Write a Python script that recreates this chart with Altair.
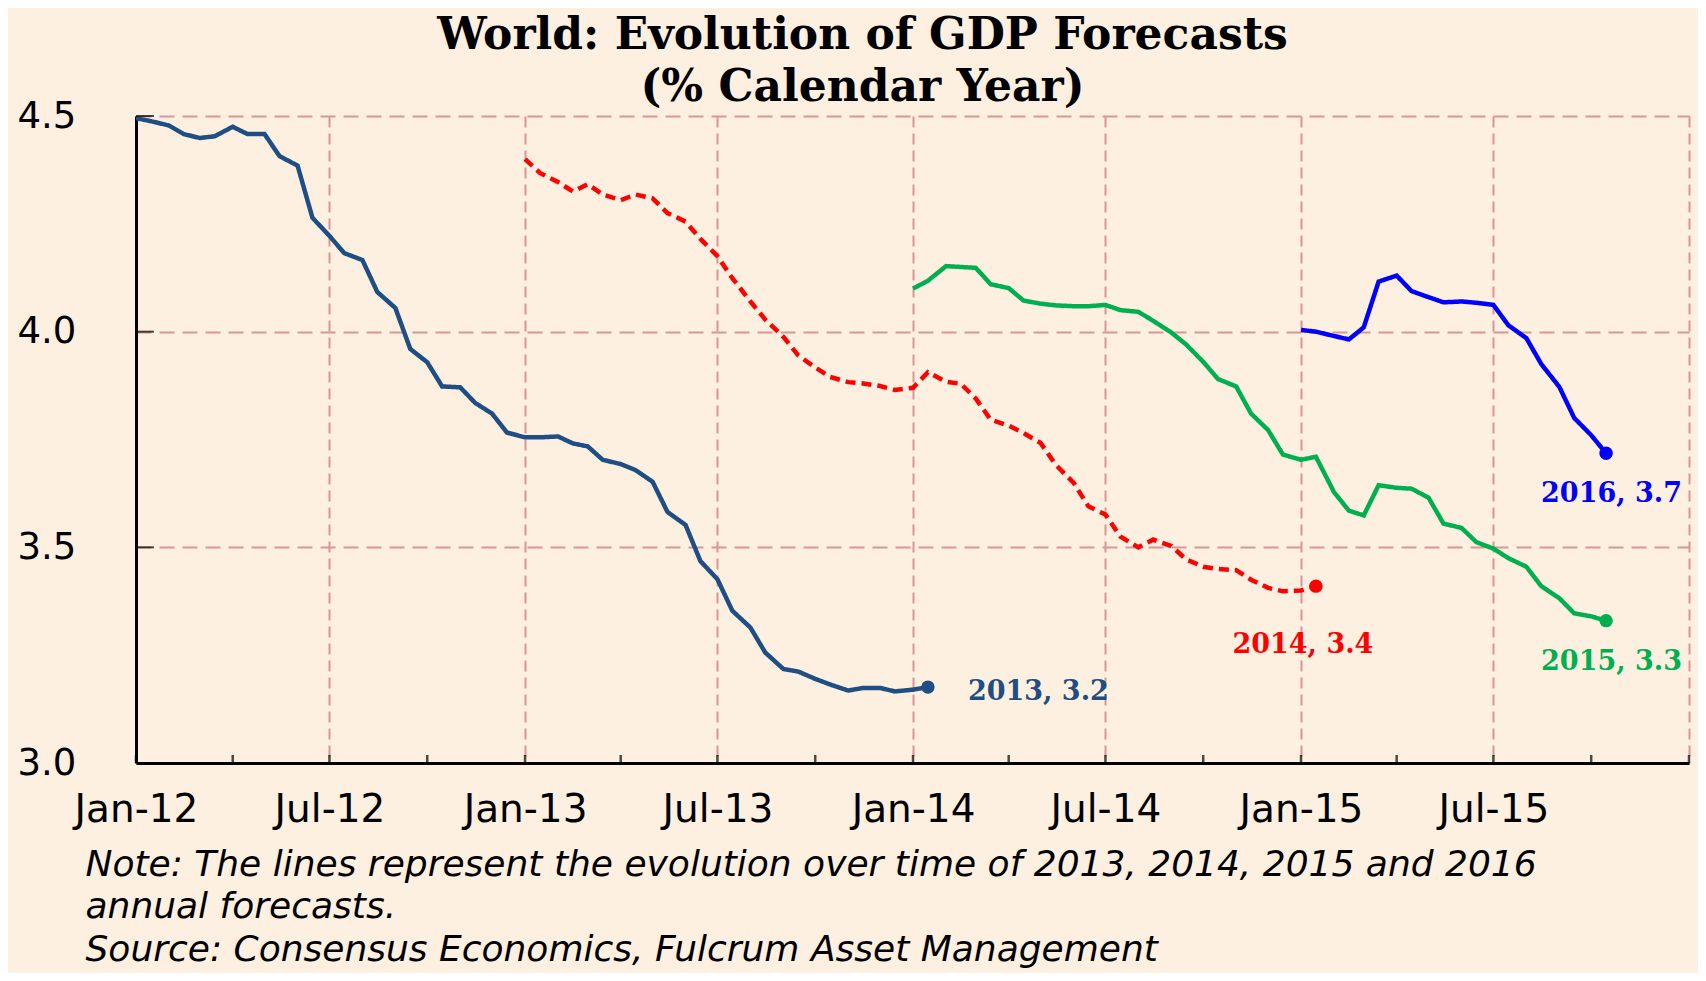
import altair as alt
import pandas as pd

# ---------------- data ----------------
SERIES = ["2013", "2014", "2015", "2016"]
COLORS = ["#1F4E85", "#FF0000", "#00B050", "#0000FF"]
STARTS = ["2012-01-01", "2013-01-01", "2014-01-01", "2015-01-01"]

# semi-monthly readings (1st and 15th of each month)
v2013 = [4.495, 4.488, 4.478, 4.458, 4.449, 4.453, 4.475, 4.458, 4.458, 4.407,
         4.385, 4.264, 4.222, 4.182, 4.166, 4.092, 4.055, 3.960, 3.929, 3.873,
         3.871, 3.835, 3.810, 3.766, 3.755, 3.755, 3.757, 3.741, 3.734, 3.703,
         3.693, 3.679, 3.652, 3.582, 3.552, 3.468, 3.426, 3.353, 3.314, 3.256,
         3.218, 3.212, 3.195, 3.182, 3.168, 3.174, 3.174, 3.166, 3.170, 3.176]
v2014 = [4.400, 4.368, 4.347, 4.325, 4.342, 4.318, 4.305, 4.318, 4.309, 4.275,
         4.255, 4.215, 4.175, 4.124, 4.070, 4.028, 3.988, 3.945, 3.917, 3.895,
         3.883, 3.880, 3.874, 3.865, 3.870, 3.906, 3.884, 3.879, 3.845, 3.796,
         3.782, 3.765, 3.742, 3.692, 3.650, 3.595, 3.576, 3.525, 3.500, 3.518,
         3.503, 3.472, 3.455, 3.450, 3.447, 3.425, 3.406, 3.398, 3.400, 3.410]
v2015 = [4.100, 4.118, 4.152, 4.150, 4.148, 4.110, 4.101, 4.072, 4.065, 4.061,
         4.059, 4.059, 4.062, 4.050, 4.046, 4.025, 3.998, 3.970, 3.930, 3.890,
         3.873, 3.810, 3.772, 3.715, 3.703, 3.710, 3.628, 3.585, 3.574, 3.644,
         3.638, 3.636, 3.615, 3.555, 3.545, 3.512, 3.497, 3.475, 3.455, 3.410,
         3.382, 3.347, 3.340, 3.330]
v2016 = [4.004, 4.000, 3.990, 3.982, 4.010, 4.116, 4.130, 4.094, 4.080, 4.068,
         4.070, 4.067, 4.062, 4.015, 3.985, 3.925, 3.872, 3.800, 3.760, 3.718]
VALUES = [v2013, v2014, v2015, v2016]

GRID_DATES = ["2012-01-01", "2012-07-01", "2013-01-01", "2013-07-01", "2014-01-01",
              "2014-07-01", "2015-01-01", "2015-07-01", "2016-01-01"]
MINOR_TICK_DATES = ["2012-01-01", "2012-04-01", "2012-07-01", "2012-10-01",
                    "2013-01-01", "2013-04-01", "2013-07-01", "2013-10-01",
                    "2014-01-01", "2014-04-01", "2014-07-01", "2014-10-01",
                    "2015-01-01", "2015-04-01", "2015-07-01", "2015-10-01",
                    "2016-01-01"]
Y_TICKS = [3.0, 3.5, 4.0, 4.5]
Y_DOMAIN = [3.0, 4.5]

TITLE_LINES = ["World: Evolution of GDP Forecasts", "(% Calendar Year)"]
NOTE_LINES = ["Note: The lines represent the evolution over time of 2013, 2014, 2015 and 2016",
              "annual forecasts.",
              "Source: Consensus Economics, Fulcrum Asset Management"]

# ---------------- tables ----------------
rows = []
for s, start, vals in zip(SERIES, STARTS, VALUES):
    dates = pd.date_range(start, periods=len(vals), freq="SMS")
    for d, v in zip(dates, vals):
        rows.append({"date": d.strftime("%Y-%m-%d"), "value": v, "series": s})
df = pd.DataFrame(rows)

last = df.groupby("series", sort=False).tail(1).copy()
last["label"] = [f"{s}, {v:.1f}" for s, v in zip(last["series"], last["value"])]

xticks_df = pd.DataFrame({"date": MINOR_TICK_DATES, "value": [Y_DOMAIN[0]] * len(MINOR_TICK_DATES)})
yticks_df = pd.DataFrame({"date": [GRID_DATES[0]] * 3, "value": Y_TICKS[1:]})


def dt(s):
    y, m, d = (int(p) for p in s.split("-"))
    return alt.DateTime(year=y, month=m, date=d, utc=True)


xscale = alt.Scale(type="utc", domain=[dt(GRID_DATES[0]), dt(GRID_DATES[-1])], nice=False)
yscale = alt.Scale(domain=Y_DOMAIN, nice=False, zero=False)

xaxis = alt.Axis(
    values=[dt(d) for d in GRID_DATES],
    labelExpr="utcyear(datum.value) >= 2016 ? '' : utcFormat(datum.value, '%b-%y')",
    labelFont="DejaVu Sans", labelFontSize=39, labelColor="black",
    labelBaseline="alphabetic", labelPadding=58, labelFlush=False, labelOverlap=False,
    ticks=False, tickSize=0,
    domainColor="black", domainWidth=3,
    grid=True, gridColor="#D99694", gridWidth=2, gridDash=[11, 6],
    title=NOTE_LINES, titleFont="DejaVu Sans", titleFontStyle="italic",
    titleFontSize=36, titleFontWeight="normal", titleColor="black",
    titleAlign="left", titleAnchor="start", titleBaseline="alphabetic",
    titleX=-51, titleY=112, titleLineHeight=42.5,
)
yaxis = alt.Axis(
    values=Y_TICKS, format=".1f",
    labelFont="DejaVu Sans", labelFontSize=37, labelColor="black",
    labelAlign="left", labelBaseline="middle", labelPadding=119, labelFlush=False,
    ticks=False, tickSize=0,
    domainColor="black", domainWidth=3,
    grid=True, gridColor="#D99694", gridWidth=2, gridDash=[15, 8],
    title=None,
)

xenc = alt.X("date:T", scale=xscale, axis=xaxis)
yenc = alt.Y("value:Q", scale=yscale, axis=yaxis)

lines = alt.Chart(df).mark_line(strokeWidth=4.5, clip=True).encode(
    x=xenc, y=yenc,
    color=alt.Color("series:N", scale=alt.Scale(domain=SERIES, range=COLORS), legend=None),
    strokeDash=alt.StrokeDash("series:N",
                              scale=alt.Scale(domain=SERIES, range=[[1, 0], [10, 6], [1, 0], [1, 0]]),
                              legend=None),
    detail="series:N",
)

dots = alt.Chart(last).mark_circle(size=180, opacity=1).encode(
    x=xenc, y=yenc,
    color=alt.Color("series:N", scale=alt.Scale(domain=SERIES, range=COLORS), legend=None),
)

label_style = {
    "2013": dict(align="left", dx=40, dy=4.5),
    "2014": dict(align="center", dx=-13, dy=58.5),
    "2015": dict(align="left", dx=-65, dy=41.5),
    "2016": dict(align="left", dx=-65, dy=41),
}
labels = []
for s, c in zip(SERIES, COLORS):
    st = label_style[s]
    labels.append(
        alt.Chart(last[last["series"] == s]).mark_text(
            font="DejaVu Serif", fontWeight="bold", fontSize=27, baseline="middle",
            color=c, **st,
        ).encode(x=xenc, y=yenc, text="label:N")
    )

xticks = alt.Chart(xticks_df).mark_tick(
    orient="vertical", size=8, thickness=2.5, color="black", yOffset=-4
).encode(x=xenc, y=yenc)

yticks = alt.Chart(yticks_df).mark_tick(
    orient="horizontal", size=18, thickness=2, color="black", xOffset=9
).encode(x=xenc, y=yenc)

chart = alt.layer(lines, dots, *labels, xticks, yticks).properties(
    width=1553, height=647,
    padding={"left": 128, "top": 108, "right": 9, "bottom": 210},
    autosize=alt.AutoSizeParams(type="none"),
    background="#FDF0E0",
    title=alt.TitleParams(
        text=TITLE_LINES, font="DejaVu Serif", fontSize=44, fontWeight="bold",
        color="black", anchor="middle", frame="group", baseline="bottom",
        offset=-57, dx=-50, lineHeight=52,
    ),
).configure_view(stroke="transparent")

chart.save("out.html", embed_options={"renderer": "svg", "actions": False})
